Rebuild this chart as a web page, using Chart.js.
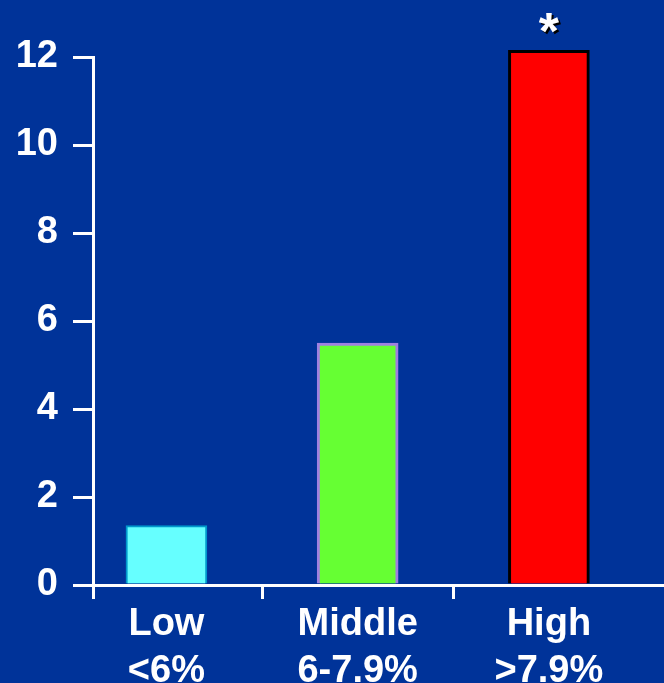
<!DOCTYPE html>
<html>
<head>
<meta charset="utf-8">
<title>HbA1c groups</title>
<script src="https://cdn.jsdelivr.net/npm/chart.js@4"></script>
<style>
  html, body { margin: 0; padding: 0; background: #003399; overflow: hidden; }
  canvas { display: block; }
</style>
</head>
<body>
<canvas id="grafico" width="664" height="683"></canvas>
<script>
// datos
var categorias = [['Low', '<6%'], ['Middle', '6-7.9%'], ['High', '>7.9%']];
var valores = [1.35, 5.5, 12.15];
var rellenos = ['#66FFFF', '#66FF33', '#FF0000'];
var bordes = ['#0099CC', '#A080E0', '#000000'];
var anchosBorde = [2, 3, 3];
var marcas = ['', '', '*'];
var yTicks = [0, 2, 4, 6, 8, 10, 12];

var X_MIN = 0.616, X_MAX = 3.602;
var FUENTE = '"Liberation Sans", Arial, sans-serif';

var puntos = valores.map(function(v, i) { return { x: i + 1, y: v }; });

// asterisco sobre la barra
var pluginMarcas = {
    id: 'marcas',
    afterDatasetsDraw: function(chart) {
        var ctx = chart.ctx;
        var meta = chart.getDatasetMeta(0);
        ctx.save();
        ctx.font = 'bold 52px ' + FUENTE;
        ctx.textAlign = 'center';
        ctx.textBaseline = 'alphabetic';
        meta.data.forEach(function(el, i) {
            if (!marcas[i]) return;
            ctx.fillStyle = '#000000';
            ctx.fillText(marcas[i], el.x + 2, el.y + 1);
            ctx.fillStyle = '#FFFFFF';
            ctx.fillText(marcas[i], el.x, el.y - 1);
        });
        ctx.restore();
    }
};

new Chart(document.getElementById('grafico'), {
    type: 'bar',
    data: {
        datasets: [{
            data: puntos,
            backgroundColor: rellenos,
            borderColor: bordes,
            borderWidth: anchosBorde,
            barThickness: 81,
            clip: false
        }]
    },
    options: {
        responsive: false,
        animation: false,
        layout: { padding: { top: 57, left: 0, right: 0, bottom: 0 } },
        plugins: { legend: { display: false }, tooltip: { enabled: false } },
        scales: {
            x: {
                type: 'linear',
                min: X_MIN,
                max: X_MAX,
                offset: false,
                afterBuildTicks: function(scale) {
                    scale.ticks = [X_MIN, 1, 1.5, 2, 2.5, 3].map(function(v) { return { value: v }; });
                },
                afterFit: function(scale) { scale.height = 98; },
                border: { display: true, color: '#FFFFFF', width: 3 },
                grid: {
                    offset: false,
                    drawOnChartArea: false,
                    tickLength: 14,
                    lineWidth: 3,
                    tickColor: function(c) {
                        var v = c.tick ? c.tick.value : 0;
                        return Number.isInteger(v) ? 'rgba(0,0,0,0)' : '#FFFFFF';
                    }
                },
                ticks: {
                    autoSkip: false,
                    maxRotation: 0,
                    padding: 2,
                    color: '#FFFFFF',
                    font: { family: FUENTE, size: 38, weight: 'bold', lineHeight: 1.24 },
                    callback: function(v) {
                        return Number.isInteger(v) ? categorias[v - 1] : '';
                    }
                }
            },
            y: {
                min: 0,
                max: 12,
                afterBuildTicks: function(scale) {
                    scale.ticks = yTicks.map(function(v) { return { value: v }; });
                },
                afterFit: function(scale) { scale.width = 93; },
                border: { display: true, color: '#FFFFFF', width: 3 },
                grid: {
                    drawOnChartArea: false,
                    tickLength: 20,
                    lineWidth: 3,
                    tickColor: '#FFFFFF'
                },
                ticks: {
                    padding: 15,
                    color: '#FFFFFF',
                    font: { family: FUENTE, size: 38, weight: 'bold' }
                }
            }
        }
    },
    plugins: [pluginMarcas]
});
</script>
</body>
</html>
